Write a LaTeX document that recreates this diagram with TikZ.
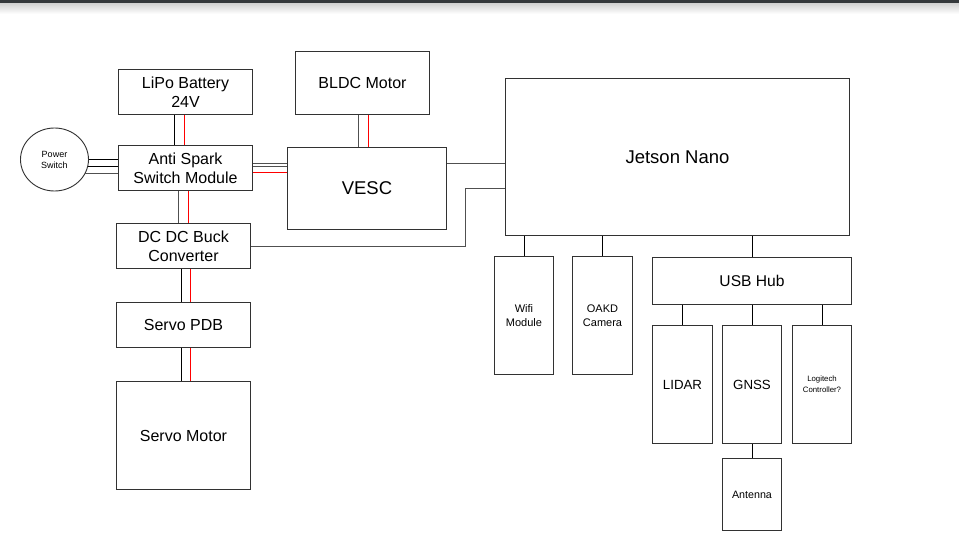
\documentclass[tikz,border=0pt]{standalone}
\usepackage{fontspec}
\setmainfont{Liberation Sans}
\usetikzlibrary{shapes.geometric}
\definecolor{boxline}{RGB}{50,50,50}
\definecolor{wire}{RGB}{80,80,80}
\definecolor{wirered}{RGB}{255,0,0}
\definecolor{topbar}{RGB}{53,57,60}
\tikzset{
  box/.style={draw=boxline, line width=0.9pt, fill=white, inner sep=0pt, align=center, font=\fontsize{16}{19}\selectfont},
  wirek/.style={draw=wire, line width=1pt},
  wireb/.style={draw=black, line width=1pt},
  wirer/.style={draw=wirered, line width=1pt},
}
\begin{document}
\begin{tikzpicture}[x=1pt,y=-1pt]
\useasboundingbox (0,0) rectangle (959,543);
\fill[white] (0,0) rectangle (959,543);
\shade[top color=black!18, bottom color=white] (0,3) rectangle (959,14);
\fill[topbar] (0,0) rectangle (959,3.2);

\begin{scope}[shift={(0.5,0.5)}]
% power side
\node[box, minimum width=134, minimum height=45] (lipo) at (185,91.5) {LiPo Battery\\24V};
\node[box, minimum width=134, minimum height=63] (bldc) at (362,82.5) {BLDC Motor};
\node[box, minimum width=134, minimum height=45] (anti) at (185,167.5) {Anti Spark\\Switch Module};
\node[box, minimum width=159, minimum height=82, font=\fontsize{18.5}{22}\selectfont] (vesc) at (366.5,188) {VESC};
\node[box, minimum width=134, minimum height=45] (dcdc) at (183,245.5) {DC DC Buck\\Converter};
\node[box, minimum width=134, minimum height=45] (pdb) at (183,324.5) {Servo PDB};
\node[box, minimum width=134, minimum height=108] (servo) at (183,435) {Servo Motor};
\node[box, ellipse, minimum width=68, minimum height=63, font=\fontsize{9}{11}\selectfont] (pswitch) at (54,159) {Power\\Switch};

% compute side
\node[box, minimum width=344, minimum height=157, font=\fontsize{18.5}{22}\selectfont] (jetson) at (677,156.5) {Jetson Nano};
\node[box, minimum width=59, minimum height=118, font=\fontsize{11}{14}\selectfont] (wifi) at (523.5,315) {Wifi\\Module};
\node[box, minimum width=60, minimum height=118, font=\fontsize{11}{14}\selectfont] (oakd) at (602,315) {OAKD\\Camera};
\node[box, minimum width=199, minimum height=47, font=\fontsize{15.6}{19}\selectfont] (usb) at (751.5,280.5) {USB Hub};
\node[box, minimum width=60, minimum height=118, font=\fontsize{13.3}{17}\selectfont] (lidar) at (682,384) {LIDAR};
\node[box, minimum width=59, minimum height=118, font=\fontsize{13.3}{17}\selectfont] (gnss) at (751.5,384) {GNSS};
\node[box, minimum width=59, minimum height=118, font=\fontsize{7.8}{11}\selectfont] (logi) at (821.5,384) {Logitech\\Controller?};
\node[box, minimum width=59, minimum height=72, font=\fontsize{10.7}{13}\selectfont] (antenna) at (751.5,494) {Antenna};

% power switch to anti spark
\draw[wireb] (pswitch.east) -- (pswitch.east -| anti.west);
\draw[wireb] (pswitch.-12) -- (pswitch.-12 -| anti.west);
\draw[wirek] (pswitch.-25) -- (pswitch.-25 -| anti.west);

% battery to anti spark
\draw[wireb] ([xshift=-11pt]lipo.south) -- ([xshift=-11pt]lipo.south |- anti.north);
\draw[wirer] ([xshift=-1pt]lipo.south) -- ([xshift=-1pt]lipo.south |- anti.north);

% BLDC to VESC
\draw[wirek] ([xshift=-4pt]bldc.south) -- ([xshift=-4pt]bldc.south |- vesc.north);
\draw[wirer] ([xshift=6pt]bldc.south) -- ([xshift=6pt]bldc.south |- vesc.north);

% anti spark to VESC
\draw[wirek] ([yshift=4.5pt]anti.east) -- ([yshift=4.5pt]anti.east -| vesc.west);
\draw[wirek] ([yshift=1.5pt]anti.east) -- ([yshift=1.5pt]anti.east -| vesc.west);
\draw[wirer] ([yshift=-4.5pt]anti.east) -- ([yshift=-4.5pt]anti.east -| vesc.west);

% anti spark to DC DC
\draw[wirek] ([xshift=-7pt]anti.south) -- ([xshift=-7pt]anti.south |- dcdc.north);
\draw[wirer] ([xshift=3pt]anti.south) -- ([xshift=3pt]anti.south |- dcdc.north);

% DC DC to servo PDB to servo motor
\draw[wireb] ([xshift=-2pt]dcdc.south) -- ([xshift=-2pt]dcdc.south |- pdb.north);
\draw[wirer] ([xshift=7pt]dcdc.south) -- ([xshift=7pt]dcdc.south |- pdb.north);
\draw[wireb] ([xshift=-2pt]pdb.south) -- ([xshift=-2pt]pdb.south |- servo.north);
\draw[wirer] ([xshift=7pt]pdb.south) -- ([xshift=7pt]pdb.south |- servo.north);

% VESC and DC DC to Jetson
\draw[wirek] ([yshift=25pt]vesc.east) -- ([yshift=25pt]vesc.east -| jetson.west);
\coordinate (bendA) at (465,246);
\coordinate (bendB) at (465,188);
\draw[wirek] (bendA -| dcdc.east) -- (bendA) -- (bendB) -- (bendB -| jetson.west);

% Jetson to peripherals
\draw[wireb] (wifi.north |- jetson.south) -- (wifi.north);
\draw[wireb] (oakd.north |- jetson.south) -- (oakd.north);
\draw[wireb] (usb.north |- jetson.south) -- (usb.north);

% USB hub to devices
\draw[wireb] (lidar.north |- usb.south) -- (lidar.north);
\draw[wireb] (gnss.north |- usb.south) -- (gnss.north);
\draw[wireb] (logi.north |- usb.south) -- (logi.north);

% GNSS to antenna
\draw[wireb] (gnss.south) -- (antenna.north);
\end{scope}
\end{tikzpicture}
\end{document}
